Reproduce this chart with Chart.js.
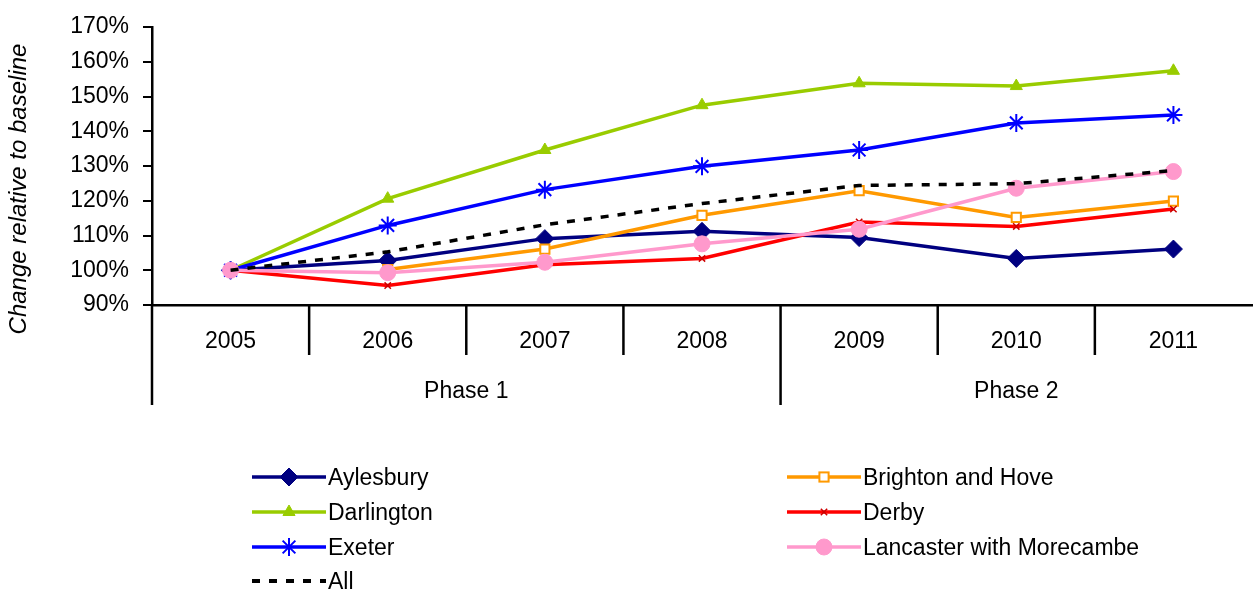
<!DOCTYPE html>
<html><head><meta charset="utf-8">
<script src="https://cdn.jsdelivr.net/npm/chart.js@4.4.1/dist/chart.umd.min.js"></script>
<style>
html,body{margin:0;padding:0;background:#fff;}
#wrap{position:relative;width:1254px;height:596px;overflow:hidden;background:#fff;}
#c{position:absolute;left:0;top:0;}
.lg{position:absolute;display:flex;align-items:center;font-family:"Liberation Sans",Arial,sans-serif;font-size:23px;color:#000;white-space:nowrap;height:30px;}
.lg svg{display:block;margin-right:2px;}
</style></head><body>
<div id="wrap"><canvas id="c" width="1254" height="596"></canvas><div id="legend"></div></div>
<script>
// ---- data ----
const years = ['2005','2006','2007','2008','2009','2010','2011'];
const phases = ['Phase 1','Phase 2'];
const phaseSpans = [4, 3];
const yTitle = 'Change relative to baseline';
const yTicks = [90,100,110,120,130,140,150,160,170];

const aylesbury  = [100, 102.8, 109.1, 111.2, 109.4, 103.4, 106.1];
const brighton   = [null, 100.2, 106.1, 115.8, 122.9, 115.2, 119.9];
const darlington = [100, 120.6, 134.6, 147.5, 153.8, 153.0, 157.4];
const derby      = [100, 95.6, 101.6, 103.4, 113.9, 112.6, 117.6];
const exeter     = [100, 112.9, 123.2, 129.9, 134.6, 142.4, 144.7];
const lancaster  = [100, 99.3, 102.3, 107.6, 111.8, 123.6, 128.4];
const allAreas   = [100, 105.3, 113.1, 119.2, 124.4, 124.9, 128.7];

const FONT = '"Liberation Sans", Arial, sans-serif';

const datasets = [
  {label:'Aylesbury', data:aylesbury, borderColor:'#000080', backgroundColor:'#000080',
   pointStyle:'rectRot', pointRadius:9, pointBackgroundColor:'#000080', pointBorderColor:'#000080', pointBorderWidth:1},
  {label:'Brighton and Hove', data:brighton, borderColor:'#FF9900', backgroundColor:'#FF9900',
   pointStyle:'rect', pointRadius:6.5, pointBackgroundColor:'#FFFFFF', pointBorderColor:'#FF9900', pointBorderWidth:2},
  {label:'Darlington', data:darlington, borderColor:'#99CC00', backgroundColor:'#99CC00',
   pointStyle:'triangle', pointRadius:7, pointBackgroundColor:'#99CC00', pointBorderColor:'#99CC00', pointBorderWidth:1},
  {label:'Derby', data:derby, borderColor:'#FF0000', backgroundColor:'#FF0000',
   pointStyle:'crossRot', pointRadius:4.5, pointBackgroundColor:'#CC0000', pointBorderColor:'#CC0000', pointBorderWidth:1.5},
  {label:'Exeter', data:exeter, borderColor:'#0000FF', backgroundColor:'#0000FF',
   pointStyle:'star', pointRadius:9, pointBackgroundColor:'#0000FF', pointBorderColor:'#0000FF', pointBorderWidth:2},
  {label:'Lancaster with Morecambe', data:lancaster, borderColor:'#FF99CC', backgroundColor:'#FF99CC',
   pointStyle:'circle', pointRadius:8, pointBackgroundColor:'#FF99CC', pointBorderColor:'#FF99CC', pointBorderWidth:1},
  {label:'All', data:allAreas, borderColor:'#000000', backgroundColor:'#000000',
   borderDash:[8,9], pointRadius:0, pointStyle:false}
].map((d,i,arr)=>Object.assign({borderWidth:3.5, tension:0, fill:false, spanGaps:false, order:arr.length-i}, d));

const deco = {
  id:'deco',
  afterDraw(chart){
    const {ctx, chartArea:a, scales:{x}} = chart;
    const w = x.getPixelForTick(1) - x.getPixelForTick(0);
    const edge = i => x.getPixelForTick(0) - w/2 + i*w;
    const phaseEdges = [0]; let acc = 0;
    phaseSpans.forEach(s=>{acc+=s; phaseEdges.push(acc);});
    ctx.save();
    ctx.strokeStyle = '#000'; ctx.lineWidth = 2.5; ctx.lineCap = 'butt';
    for (let i=0;i<years.length;i++){
      const xx = edge(i);
      const isPhase = phaseEdges.includes(i);
      ctx.beginPath(); ctx.moveTo(xx, a.bottom); ctx.lineTo(xx, a.bottom + (isPhase?100:50)); ctx.stroke();
    }
    ctx.fillStyle = '#000'; ctx.textAlign = 'center'; ctx.textBaseline = 'middle';
    ctx.font = '23px ' + FONT;
    phases.forEach((p,k)=>{
      const cx = (edge(phaseEdges[k]) + edge(phaseEdges[k+1]))/2;
      ctx.fillText(p, cx, a.bottom + 87);
    });
    ctx.translate(19, (a.top + a.bottom + 50)/2 - 2);
    ctx.rotate(-Math.PI/2);
    ctx.font = 'italic 24px ' + FONT;
    ctx.fillText(yTitle, 0, 0);
    ctx.restore();
  }
};

const chart = new Chart(document.getElementById('c'), {
  type:'line',
  data:{labels:years, datasets},
  options:{
    responsive:false, animation:false, devicePixelRatio:1,
    layout:{autoPadding:false, padding:{top:27, right:2, left:0, bottom:0}},
    plugins:{legend:{display:false}, tooltip:{enabled:false}},
    scales:{
      x:{type:'category', offset:true,
         grid:{display:false, drawTicks:false},
         border:{display:true, color:'#000', width:2.5},
         ticks:{font:{family:FONT, size:23}, color:'#000', padding:23, maxRotation:0, autoSkip:false},
         afterFit(s){ s.height = 291; s.paddingLeft = 0; s.paddingRight = 0; }},
      y:{min:90, max:170,
         afterBuildTicks(s){ s.ticks = yTicks.map(v=>({value:v})); },
         ticks:{callback:v=>v+'%', font:{family:FONT, size:23}, color:'#000', padding:14},
         grid:{drawOnChartArea:false, drawTicks:true, tickLength:9, color:'#000', lineWidth:2},
         border:{display:true, color:'#000', width:2.5},
         afterFit(s){ s.width = 152; s.paddingTop = 0; s.paddingBottom = 0; }}
    }
  },
  plugins:[deco]
});

// ---- HTML legend built from the datasets ----
function markerSVG(d){
  const W=74, H=30, cx=W/2, cy=H/2;
  let s = `<svg width="${W}" height="${H}" viewBox="0 0 ${W} ${H}">`;
  const dash = d.borderDash ? `stroke-dasharray="${d.borderDash.join(',')}"` : '';
  s += `<line x1="0" y1="${cy}" x2="${W}" y2="${cy}" stroke="${d.borderColor}" stroke-width="${d.borderDash?4:3.5}" ${dash}/>`;
  const r = d.pointRadius, f = d.pointBackgroundColor, b = d.pointBorderColor, bw = d.pointBorderWidth;
  switch(d.pointStyle){
    case 'rectRot': s += `<polygon points="${cx},${cy-r} ${cx+r},${cy} ${cx},${cy+r} ${cx-r},${cy}" fill="${f}" stroke="${b}" stroke-width="${bw}"/>`; break;
    case 'rect': { const h=r*Math.SQRT1_2; s += `<rect x="${cx-h}" y="${cy-h}" width="${2*h}" height="${2*h}" fill="${f}" stroke="${b}" stroke-width="${bw}"/>`; break; }
    case 'triangle': s += `<polygon points="${cx},${cy-r} ${cx+0.866*r},${cy+0.5*r} ${cx-0.866*r},${cy+0.5*r}" fill="${f}" stroke="${b}" stroke-width="${bw}"/>`; break;
    case 'crossRot': { const h=r*0.707; s += `<path d="M${cx-h},${cy-h}L${cx+h},${cy+h}M${cx+h},${cy-h}L${cx-h},${cy+h}" stroke="${b}" stroke-width="${bw}"/>`; break; }
    case 'star': { const h=r*0.707; s += `<path d="M${cx-h},${cy-h}L${cx+h},${cy+h}M${cx+h},${cy-h}L${cx-h},${cy+h}M${cx},${cy-r}L${cx},${cy+r}" stroke="${b}" stroke-width="${bw}"/>`; break; }
    case 'circle': s += `<circle cx="${cx}" cy="${cy}" r="${r}" fill="${f}" stroke="${b}" stroke-width="${bw}"/>`; break;
  }
  return s + '</svg>';
}
const legendPos = [[252,477],[787,477],[252,512],[787,512],[252,547],[787,547],[252,581]];
const lg = document.getElementById('legend');
chart.data.datasets.forEach((d,i)=>{
  const el = document.createElement('div');
  el.className = 'lg';
  el.style.left = legendPos[i][0] + 'px';
  el.style.top = (legendPos[i][1] - 15) + 'px';
  el.innerHTML = markerSVG(d) + '<span>' + d.label + '</span>';
  lg.appendChild(el);
});
</script>
</body></html>
